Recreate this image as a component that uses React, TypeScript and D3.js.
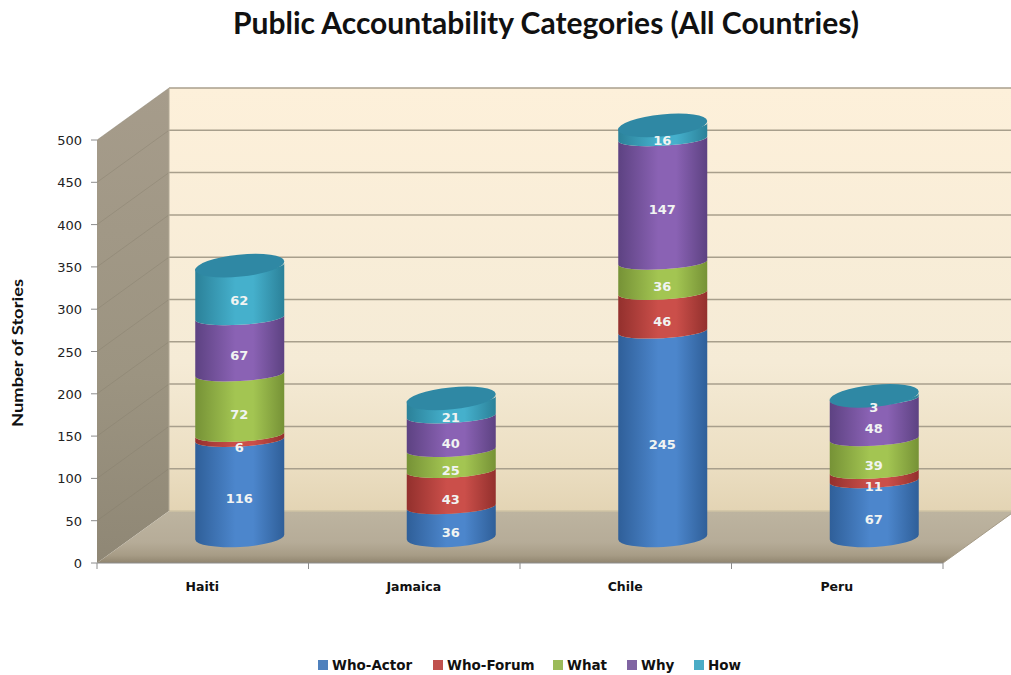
import React from 'react';
import * as d3 from 'd3';

const countries = ['Haiti', 'Jamaica', 'Chile', 'Peru'];
const seriesNames = ['Who-Actor', 'Who-Forum', 'What', 'Why', 'How'];
const whoActor = [116, 36, 245, 67];
const whoForum = [6, 43, 46, 11];
const what = [72, 25, 36, 39];
const why = [67, 40, 147, 48];
const how = [62, 21, 16, 3];
const yTicks = [0, 50, 100, 150, 200, 250, 300, 350, 400, 450, 500];

const seriesValues = [whoActor, whoForum, what, why, how];
const seriesColors = [
  { edge: '#2f5f99', mid: '#4c86cc', key: '#4f81bd' },
  { edge: '#93302d', mid: '#cb4f4a', key: '#c0504d' },
  { edge: '#769236', mid: '#a3c552', key: '#9bbb59' },
  { edge: '#5d4282', mid: '#8a62b4', key: '#8064a2' },
  { edge: '#2b8199', mid: '#45b0cc', key: '#4bacc6' },
];
const capColor = '#2f88a4';
const legendX = [318, 433, 553, 627, 694];

const W = 1011;
const H = 675;
const depthX = 72;
const depthY = -52;
const frontLeft = 97;
const frontRight = 943;
const rx = 44.5;
const ringSag = 7;
const endSag = 10;
const capSag = 11;
const ringTilt = 2.5;
const capTilt = 4.5;
const barBase = 537;

// Front plane of the box: value axis and category bands.
const y = d3.scaleLinear().domain([0, 500]).range([563, 140]);
const x = d3.scaleBand().domain(countries).range([frontLeft, frontRight]);
// Cylinder heights are foreshortened slightly compared with the front axis.
const barY = d3.scaleLinear().domain([0, 500]).range([barBase, barBase - 420]);
const labelY = d3.scaleLinear().domain([0, 500]).range([552.5, 129.5]);
const centerX = (c: string) => (x(c) as number) + x.bandwidth() / 2 + 37;

const ringMajor = Math.sqrt(rx * rx + ringTilt * ringTilt);
const ringRot = (Math.atan2(-ringTilt, rx) * 180) / Math.PI;
const capMajor = Math.sqrt(rx * rx + capTilt * capTilt);
const capRot = (Math.atan2(-capTilt, rx) * 180) / Math.PI;

function segmentPath(cx: number, y0: number, y1: number, lowerSag: number) {
  const l = cx - rx;
  const r = cx + rx;
  return (
    `M${l},${y0 + ringTilt}` +
    `A${ringMajor},${lowerSag} ${ringRot} 0 0 ${r},${y0 - ringTilt}` +
    `L${r},${y1 - ringTilt}` +
    `A${ringMajor},${ringSag} ${ringRot} 0 1 ${l},${y1 + ringTilt}Z`
  );
}

export default function App() {
  const stacked = countries.map((_, i) => {
    let acc = 0;
    return seriesValues.map((vals) => {
      const start = acc;
      acc += vals[i];
      return { start, end: acc, value: vals[i] };
    });
  });

  return (
    <svg
      width={W}
      height={H}
      viewBox={`0 0 ${W} ${H}`}
      style={{ position: 'absolute', left: 0, top: 0, background: '#fff', display: 'block' }}
    >
      <defs>
        <linearGradient id="wall" x1="0" y1="0" x2="0" y2="1">
          <stop offset="0" stopColor="#fdf0da" />
          <stop offset="0.65" stopColor="#f5ebd6" />
          <stop offset="0.88" stopColor="#ecdfc3" />
          <stop offset="1" stopColor="#e3d4b4" />
        </linearGradient>
        <linearGradient id="side" x1="0" y1="0" x2="0" y2="1">
          <stop offset="0" stopColor="#a69c8b" />
          <stop offset="0.6" stopColor="#9c9481" />
          <stop offset="1" stopColor="#8f8775" />
        </linearGradient>
        <linearGradient id="floor" x1="0" y1="0" x2="0" y2="1">
          <stop offset="0" stopColor="#bdb4a0" />
          <stop offset="0.6" stopColor="#b6ac98" />
          <stop offset="0.85" stopColor="#a79c86" />
          <stop offset="1" stopColor="#90856f" />
        </linearGradient>
        {seriesColors.map((c, i) => (
          <linearGradient key={i} id={`cyl${i}`} x1="0" y1="0" x2="1" y2="0">
            <stop offset="0" stopColor={c.edge} />
            <stop offset="0.45" stopColor={c.mid} />
            <stop offset="0.65" stopColor={c.mid} />
            <stop offset="1" stopColor={c.edge} />
          </linearGradient>
        ))}
      </defs>

      <text
        x={546}
        y={34}
        textAnchor="middle"
        fontFamily="Lato, sans-serif"
        fontWeight={700}
        fontSize={30}
        fill="#111"
      >
        Public Accountability Categories (All Countries)
      </text>

      {/* Box: back wall, side wall, floor */}
      <rect
        x={frontLeft + depthX}
        y={y(500) + depthY}
        width={W - frontLeft - depthX}
        height={y(0) - y(500)}
        fill="url(#wall)"
      />
      <polygon
        points={`${frontLeft},${y(0)} ${frontLeft},${y(500)} ${frontLeft + depthX},${y(500) + depthY} ${frontLeft + depthX},${y(0) + depthY}`}
        fill="url(#side)"
      />
      <polygon
        points={`${frontLeft},${y(0)} ${frontLeft + depthX},${y(0) + depthY} ${frontRight + depthX},${y(0) + depthY} ${frontRight},${y(0)}`}
        fill="url(#floor)"
      />

      {/* Gridlines wrap from the front axis over the side wall and across the back */}
      {yTicks.map((t) => (
        <g key={t} fill="none">
          <line
            x1={frontLeft}
            y1={y(t)}
            x2={frontLeft + depthX}
            y2={y(t) + depthY}
            strokeOpacity={t === 0 ? 0 : 0.4}
            stroke="#857c6b"
          />
          <line
            x1={frontLeft + depthX}
            y1={y(t) + depthY}
            x2={W}
            y2={y(t) + depthY}
            strokeWidth={1.5}
            stroke={t === 0 ? '#cfc3a4' : '#a89f8c'}
          />
        </g>
      ))}
      <line
        x1={frontLeft + depthX}
        y1={y(500) + depthY}
        x2={frontLeft + depthX}
        y2={y(0) + depthY}
        stroke="#b3aa97"
      />
      <line x1={frontRight} y1={y(0)} x2={frontRight + depthX} y2={y(0) + depthY} stroke="#a59b87" />

      {/* Value axis */}
      {yTicks.map((t) => (
        <g key={t}>
          <line x1={frontLeft - 6} y1={y(t)} x2={frontLeft} y2={y(t)} stroke="#8c8c8c" />
          <text
            x={82}
            y={y(t) + 5}
            textAnchor="end"
            fontFamily="'DejaVu Sans', sans-serif"
            fontSize={13}
            fill="#222"
          >
            {t}
          </text>
        </g>
      ))}

      {/* Category axis */}
      <line x1={frontLeft} y1={y(0)} x2={frontRight} y2={y(0)} stroke="#8c8c8c" />
      {[...countries.map((c) => x(c) as number), frontRight].map((px) => (
        <line key={px} x1={px} y1={y(0)} x2={px} y2={y(0) + 6} stroke="#8c8c8c" />
      ))}
      {countries.map((c) => (
        <text
          key={c}
          x={(x(c) as number) + x.bandwidth() / 2 - 0.5}
          y={591}
          textAnchor="middle"
          fontFamily="'DejaVu Sans', sans-serif"
          fontWeight={700}
          fontSize={12.5}
          fill="#111"
        >
          {c}
        </text>
      ))}

      <text
        transform="translate(23,353) rotate(-90)"
        textAnchor="middle"
        fontFamily="Lato, sans-serif"
        fontWeight={700}
        fontSize={16}
        fill="#111"
        textLength={148}
        lengthAdjust="spacingAndGlyphs"
      >
        Number of Stories
      </text>

      {/* Stacked cylinders */}
      {countries.map((c, i) => {
        const cx = centerX(c);
        const top = stacked[i][stacked[i].length - 1].end;
        return (
          <g key={c}>
            {stacked[i].map((s, k) => (
              <path
                key={k}
                d={segmentPath(cx, barY(s.start), barY(s.end), k === 0 ? endSag : ringSag)}
                fill={`url(#cyl${k})`}
              />
            ))}
            <ellipse
              cx={cx}
              cy={barY(top)}
              rx={capMajor}
              ry={capSag}
              fill={capColor}
              transform={`rotate(${capRot} ${cx} ${barY(top)})`}
            />
            {stacked[i].map((s, k) => (
              <text
                key={k}
                x={cx - 0.5}
                y={labelY((s.start + s.end) / 2)}
                textAnchor="middle"
                fontFamily="'DejaVu Sans', sans-serif"
                fontWeight={700}
                fontSize={13}
                fill="#f1f4f2"
              >
                {s.value}
              </text>
            ))}
          </g>
        );
      })}

      {/* Legend */}
      {seriesNames.map((name, k) => (
        <g key={name}>
          <rect x={legendX[k]} y={660} width={10} height={10} fill={seriesColors[k].key} />
          <text
            x={legendX[k] + 14}
            y={669.5}
            fontFamily="'DejaVu Sans', sans-serif"
            fontWeight={700}
            fontSize={13.5}
            fill="#111"
          >
            {name}
          </text>
        </g>
      ))}
    </svg>
  );
}
